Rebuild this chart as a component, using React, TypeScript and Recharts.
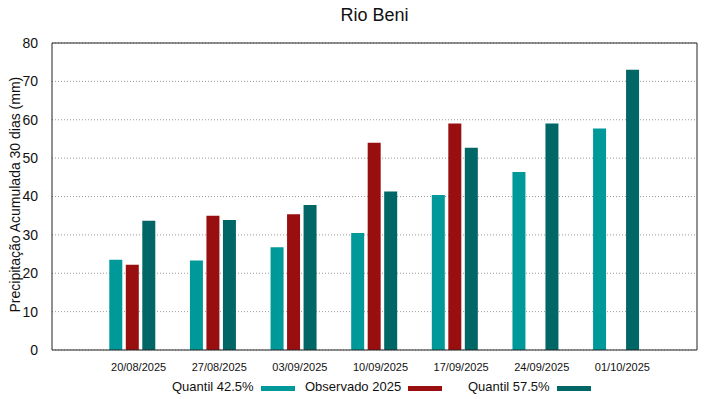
import { Bar, BarChart, CartesianGrid, XAxis, YAxis } from 'recharts';

const dates = ['20/08/2025', '27/08/2025', '03/09/2025', '10/09/2025', '17/09/2025', '24/09/2025', '01/10/2025'];
const quantil425 = [23.5, 23.3, 26.8, 30.5, 40.4, 46.4, 57.7];
const observado2025: (number | null)[] = [22.2, 35.0, 35.4, 54.0, 59.0, null, null];
const quantil575 = [33.7, 33.9, 37.8, 41.3, 52.7, 59.0, 73.0];
const yTicks = [0, 10, 20, 30, 40, 50, 60, 70, 80];

const COLORS = { q425: '#009999', obs: '#990e0e', q575: '#006666' };
const FONT = '"Liberation Sans", Arial, sans-serif';

const data = dates.map((d, i) => ({
  date: d,
  q425: quantil425[i],
  obs: observado2025[i],
  q575: quantil575[i],
}));

function DateTick(props: any) {
  const { x, payload } = props;
  return (
    <text x={x + 6} y={371} textAnchor="middle" fontSize={11} fill="#111" fontFamily={FONT}>
      {payload.value}
    </text>
  );
}

function LegendRow() {
  const items = [
    { label: 'Quantil 42.5%', color: COLORS.q425, left: 172 },
    { label: 'Observado 2025', color: COLORS.obs, left: 305 },
    { label: 'Quantil 57.5%', color: COLORS.q575, left: 468 },
  ];
  return (
    <>
      {items.map((it) => (
        <div
          key={it.label}
          style={{
            position: 'absolute',
            left: it.left,
            top: 379,
            display: 'flex',
            alignItems: 'center',
            gap: 7,
            fontFamily: FONT,
            fontSize: 13,
            color: '#111',
            whiteSpace: 'nowrap',
          }}
        >
          <span>{it.label}</span>
          <span
            style={{
              display: 'inline-block',
              width: 34,
              height: 5,
              marginTop: 4,
              backgroundColor: it.color,
            }}
          />
        </div>
      ))}
    </>
  );
}

export default function App() {
  return (
    <div style={{ position: 'absolute', left: 0, top: 0, width: 719, height: 399, background: '#fff' }}>
      <div
        style={{
          position: 'absolute',
          top: 5,
          left: 52,
          width: 645,
          textAlign: 'center',
          fontFamily: FONT,
          fontSize: 18,
          color: '#111',
        }}
      >
        Rio Beni
      </div>
      <BarChart
        width={719}
        height={399}
        data={data}
        margin={{ top: 43, right: 0, bottom: 29, left: 0 }}
        barSize={13}
        barGap={3.5}
      >
        <CartesianGrid vertical={false} stroke="#999" strokeDasharray="1 2" />
        <XAxis
          dataKey="date"
          height={20}
          padding={{ left: 40.3, right: 40.3 }}
          tick={<DateTick />}
          tickLine={false}
          axisLine={{ stroke: '#222' }}
          interval={0}
        />
        <XAxis
          xAxisId="top"
          dataKey="date"
          orientation="top"
          mirror
          height={1}
          padding={{ left: 40.3, right: 40.3 }}
          tick={false}
          tickSize={5}
          tickLine={{ stroke: '#222' }}
          axisLine={{ stroke: '#222' }}
          interval={0}
        />
        <YAxis
          width={52}
          domain={[0, 80]}
          ticks={yTicks}
          tick={{ fontSize: 14, fill: '#111', fontFamily: FONT }}
          tickLine={false}
          axisLine={{ stroke: '#222' }}
          tickMargin={8}
          label={{
            value: 'Precipitação Acumulada 30 dias (mm)',
            angle: -90,
            position: 'insideLeft',
            dx: 10,
            dy: 116,
            style: { fontSize: 14, fill: '#111', fontFamily: FONT },
          }}
        />
        <YAxis
          yAxisId="right"
          orientation="right"
          width={22}
          domain={[0, 80]}
          ticks={yTicks}
          tick={false}
          tickSize={-4}
          tickLine={{ stroke: '#222' }}
          axisLine={{ stroke: '#222' }}
        />
        <Bar dataKey="q425" fill={COLORS.q425} isAnimationActive={false} />
        <Bar dataKey="obs" fill={COLORS.obs} isAnimationActive={false} />
        <Bar dataKey="q575" fill={COLORS.q575} isAnimationActive={false} />
      </BarChart>
      <LegendRow />
    </div>
  );
}
